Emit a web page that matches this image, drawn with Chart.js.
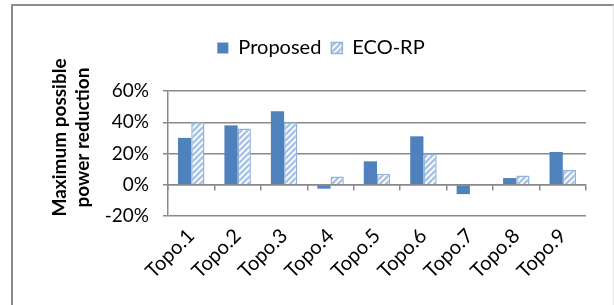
<!DOCTYPE html>
<html><head><meta charset="utf-8">
<script src="https://cdn.jsdelivr.net/npm/chart.js@4.4.0/dist/chart.umd.min.js"></script>
<style>
html,body{margin:0;padding:0;background:#fff;}
#wrap{position:relative;width:614px;height:305px;}
#frame{position:absolute;left:11px;top:4px;width:603px;height:305px;border-left:2px solid #8c8c8c;border-top:2px solid #8c8c8c;border-right:1px solid #e4e4e4;box-sizing:border-box;pointer-events:none;}
canvas{display:block;}
</style></head><body>
<div id="wrap"><canvas id="c" width="614" height="305"></canvas><div id="frame"></div></div>
<script>
const categories = ['Topo.1','Topo.2','Topo.3','Topo.4','Topo.5','Topo.6','Topo.7','Topo.8','Topo.9'];
const proposed = [30, 38, 47, -2.5, 15, 31, -6, 4.3, 21];
const ecoRP = [40, 36, 40, 5.3, 7, 20, 0, 6, 9.4];
const yTicks = [-20, 0, 20, 40, 60];
const seriesNames = ['Proposed', 'ECO-RP'];
const yTitle = ['Maximum possible', 'power reduction'];

const FONT = 'Lato';
const GRID = '#898989';

function makeHatch() {
  const s = 6;
  const c = document.createElement('canvas');
  c.width = s; c.height = s;
  const x = c.getContext('2d');
  x.fillStyle = '#ffffff';
  x.fillRect(0, 0, s, s);
  x.strokeStyle = '#a9c2e4';
  x.lineWidth = 2.4;
  x.beginPath();
  x.moveTo(0, s); x.lineTo(s, 0);
  x.moveTo(-s / 2, s / 2); x.lineTo(s / 2, -s / 2);
  x.moveTo(s / 2, s * 1.5); x.lineTo(s * 1.5, s / 2);
  x.stroke();
  return x.createPattern(c, 'repeat');
}

const yTitlePlugin = {
  id: 'yTitleText',
  afterDraw(chart) {
    const {ctx, chartArea} = chart;
    ctx.save();
    ctx.font = 'bold 19px ' + FONT;
    ctx.fillStyle = '#000';
    ctx.textAlign = 'center';
    ctx.textBaseline = 'middle';
    const cy = (chartArea.top + chartArea.bottom) / 2 - 16;
    ctx.translate(60, cy);
    ctx.rotate(-Math.PI / 2);
    yTitle.forEach((t, i) => ctx.fillText(t, 0, i * 23));
    ctx.restore();
  }
};

new Chart(document.getElementById('c'), {
  type: 'bar',
  data: {
    labels: categories,
    datasets: [
      {label: seriesNames[0], data: proposed, backgroundColor: '#4f81bd', borderWidth: 0,
       categoryPercentage: 0.57, barPercentage: 1.0},
      {label: seriesNames[1], data: ecoRP, backgroundColor: makeHatch(), borderColor: '#95b3d7', borderWidth: 1.5,
       categoryPercentage: 0.57, barPercentage: 1.0}
    ]
  },
  options: {
    responsive: false,
    animation: false,
    devicePixelRatio: 1,
    layout: {padding: {top: 28, right: 28, left: 56, bottom: 0}},
    plugins: {
      legend: {
        position: 'top',
        labels: {font: {family: FONT, size: 20}, color: '#000', boxWidth: 11, boxHeight: 11, padding: 10}
      },
      subtitle: {
        display: true, text: '', position: 'top', weight: 500,
        font: {size: 10, lineHeight: 1}, padding: {top: 0, bottom: 13}
      },
      tooltip: {enabled: false}
    },
    scales: {
      x: {
        grid: {display: false, drawTicks: false},
        border: {display: false},
        ticks: {font: {family: FONT, size: 20}, color: '#000', maxRotation: 45, minRotation: 45, autoSkip: false, padding: 8},
        afterFit(s) { s.height = 89; }
      },
      x2: {
        type: 'category',
        labels: categories,
        position: {y: 0},
        grid: {display: true, drawOnChartArea: false, drawTicks: true, tickLength: 5, offset: true, color: GRID, lineWidth: 1.5},
        border: {display: true, color: GRID, width: 1.5},
        ticks: {display: false}
      },
      y: {
        min: -20, max: 60,
        afterBuildTicks(s) { s.ticks = yTicks.map(v => ({value: v})); },
        grid: {color: GRID, lineWidth: 1.5, tickLength: 5, drawTicks: true},
        border: {display: true, color: GRID, width: 1.5},
        ticks: {font: {family: FONT, size: 19}, color: '#000', padding: 14, callback: v => v + '%'},
        afterFit(s) { s.width = 112; }
      }
    }
  },
  plugins: [yTitlePlugin]
});
</script>
</body></html>
